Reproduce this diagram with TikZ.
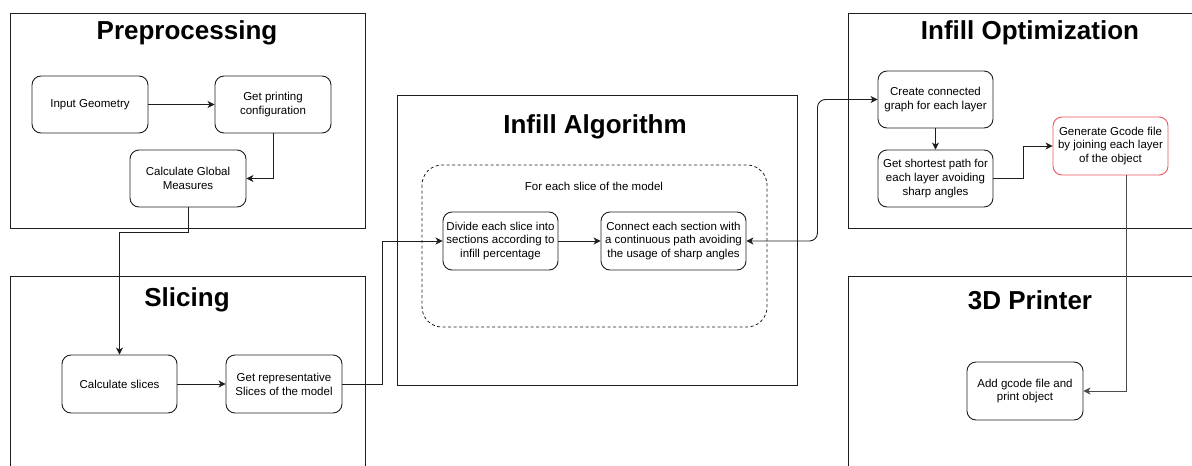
\documentclass[tikz,border=0pt]{standalone}
\usepackage{fontspec}
\setmainfont{Liberation Sans}
\usetikzlibrary{arrows.meta}

\definecolor{edge}{RGB}{30,30,30}
\definecolor{alert}{RGB}{236,84,96}

\tikzset{
  region/.style={draw=edge, line width=0.9pt},
  regiontitle/.style={font=\fontsize{26}{30}\selectfont\bfseries, anchor=center},
  stepbox/.style={draw=edge, line width=0.9pt, rounded corners=9pt,
    align=center, font=\fontsize{11.5}{13.8}\selectfont, inner sep=0pt},
  loopbox/.style={draw=edge, line width=0.8pt, dash pattern=on 3pt off 2.5pt,
    rounded corners=20pt},
  flow/.style={draw=edge, line width=0.9pt,
    -{Stealth[length=7pt,width=7pt,inset=2pt]}},
}

\begin{document}
\begin{tikzpicture}[x=1pt, y=-1pt]
  \useasboundingbox (0,0) rectangle (1192,466);
  \clip (0,0) rectangle (1192,466);

  % stage frames
  \draw[region] (10,13) rectangle (365,228);
  \draw[region] (10,276) rectangle (365,490);
  \draw[region] (397,95) rectangle (797,385);
  \draw[region] (848,13) rectangle (1210,228);
  \draw[region] (848,276) rectangle (1210,490);

  \node[regiontitle] (tpre)  at (187,33)  {Preprocessing};
  \node[regiontitle] (tsli)  at (187,300) {Slicing};
  \node[regiontitle] (talg)  at (595,127) {Infill Algorithm};
  \node[regiontitle] (topt)  at (1030,33) {Infill Optimization};
  \node[regiontitle] (tprn)  at (1030,300) {3D Printer};

  % per-slice loop
  \draw[loopbox] (422,165) rectangle (767,327);
  \node[font=\fontsize{11.5}{13.8}\selectfont] (loop) at (594,186) {For each slice of the model};

  % preprocessing
  \node[stepbox, minimum width=116pt, minimum height=57pt] (geom) at (90,104.5) {Input Geometry};
  \node[stepbox, minimum width=116pt, minimum height=57pt] (conf) at (273,104.5) {Get printing\\configuration};
  \node[stepbox, minimum width=116pt, minimum height=57pt] (glob) at (188,178.5) {Calculate Global\\Measures};

  % slicing
  \node[stepbox, minimum width=115pt, minimum height=58pt] (csl) at (119.5,384) {Calculate slices};
  \node[stepbox, minimum width=116pt, minimum height=58pt] (rep) at (284,384) {Get representative\\Slices of the model};

  % infill algorithm
  \node[stepbox, minimum width=115pt, minimum height=58pt] (div) at (500.5,241) {Divide each slice into\\sections according to\\infill percentage};
  \node[stepbox, minimum width=145pt, minimum height=58pt] (con) at (673.5,241) {Connect each section with\\a continuous path avoiding\\the usage of sharp angles};

  % infill optimization
  \node[stepbox, minimum width=115pt, minimum height=57pt] (graph) at (935.5,99.5) {Create connected\\graph for each layer};
  \node[stepbox, minimum width=115pt, minimum height=57pt] (path) at (935.5,178.5) {Get shortest path for\\each layer avoiding\\sharp angles};
  \node[stepbox, draw=alert, minimum width=115pt, minimum height=58pt] (gcode) at (1110.5,146) {Generate Gcode file\\by joining each layer\\of the object};

  % 3d printer
  \node[stepbox, minimum width=116pt, minimum height=58pt] (print) at (1025,391) {Add gcode file and\\print object};

  % connectors
  \draw[flow] (geom) -- (conf);
  \draw[flow] (conf.south) |- (glob.east);
  \draw[flow] (glob.south) -- ++(0,25) -| (csl.north);
  \draw[flow] (csl) -- (rep);
  \draw[flow] (rep.east) -- ++(40,0) |- (div.west);
  \draw[flow] (div) -- (con);
  \draw[flow, {Stealth[length=7pt,width=7pt,inset=2pt]}-{Stealth[length=7pt,width=7pt,inset=2pt]}, rounded corners=8pt]
    (con.east) -- ++(71,0) |- (graph.west);
  \draw[flow] (graph) -- (path);
  \draw[flow] (path.east) -- ++(30,0) |- (gcode.west);
  \draw[flow, draw=edge!80] ([xshift=16pt]gcode.south) |- (print.east);
\end{tikzpicture}
\end{document}
